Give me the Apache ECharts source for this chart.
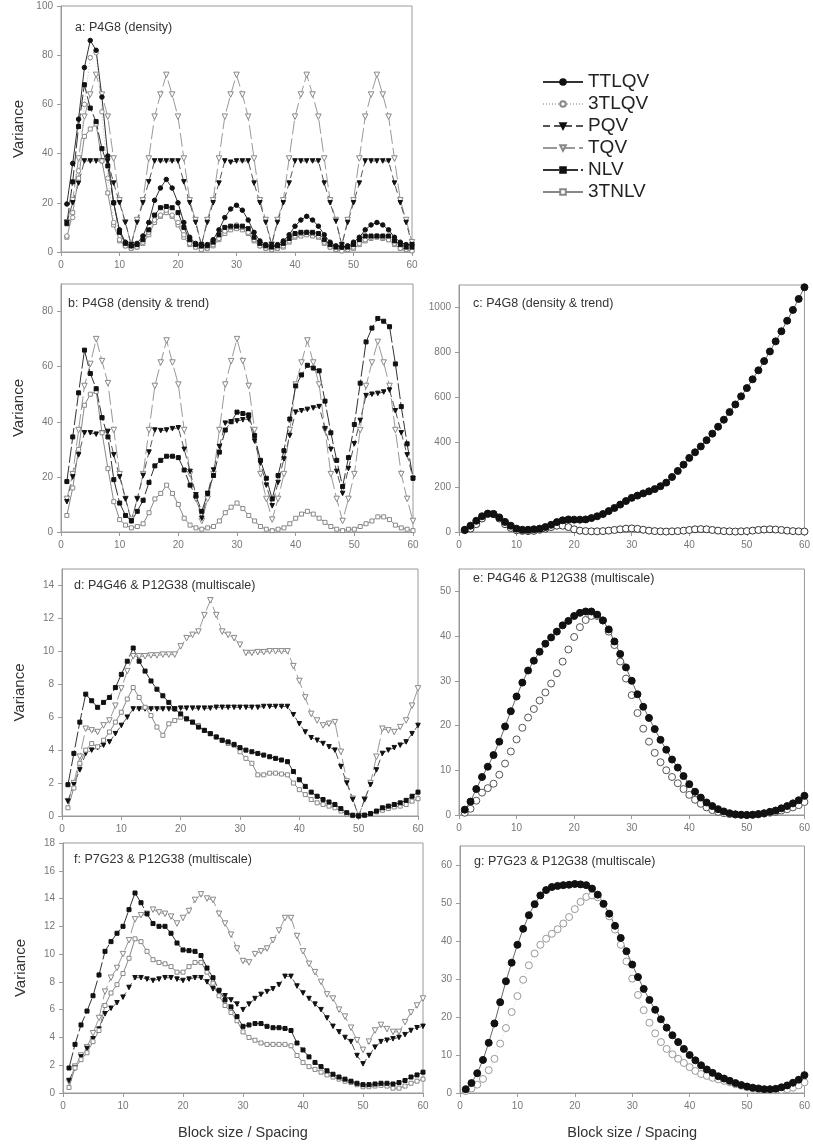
<!DOCTYPE html>
<html><head><meta charset="utf-8">
<script src="https://cdn.jsdelivr.net/npm/echarts@6/dist/echarts.min.js"></script>
<style>html,body{margin:0;padding:0;background:#fff}#c{width:813px;height:1146px}</style>
</head><body><div id="c"></div>
<script>
const xs = [1,2,3,4,5,6,7,8,9,10,11,12,13,14,15,16,17,18,19,20,21,22,23,24,25,26,27,28,29,30,31,32,33,34,35,36,37,38,39,40,41,42,43,44,45,46,47,48,49,50,51,52,53,54,55,56,57,58,59,60];
const legendNames = ['TTLQV','3TLQV','PQV','TQV','NLV','3TNLV'];
const panelLabels = ['a: P4G8 (density)','b: P4G8 (density & trend)','c: P4G8 (density & trend)','d: P4G46 & P12G38 (multiscale)','e: P4G46 & P12G38 (multiscale)','f: P7G23 & P12G38 (multiscale)','g: P7G23 & P12G38 (multiscale)'];
const yMax = [100, 90, 1100, 15, 55, 18, 65];
const yStep = [20, 20, 200, 2, 10, 2, 10];

// panel a
const a_TTLQV = [19.5,36,54,75,86,82,63,39,20,9,4,2.5, 3.5,6.5,12,21,26,29.5,26,20,12,6,3.5,2.5, 3,5,9,14,17.5,19,17,13,8,4.5,3,2.5, 3,4.5,7,10.5,13,14.5,13,10.5,7,4,2.5,2, 2.5,4,6,9,11,12,11,9,6,4,3,3];
const a_3TLQV = [6.5,14,33,60,79,81,57,30,12,5,2.5,1.5, 2,4,8,13,15,17,15,12,7,3.5,2,1, 1.5,3,5.5,8.5,10,11,10,8,5,2.5,1.5,1, 1.5,2.5,4.5,6.5,7.5,8,7.5,6.5,4,2,1,0.5, 1,2,3.5,5,6,6.5,6,5,3.5,1.5,1,0.5];
const a_PQV = [12,20,28,37,37,37,37,37,28,20,12,3, 12,20,28.5,37,37,37,37,37,28.5,20,12,3, 12,20,28,37,36.5,37,37,37,28,20,12,3, 12,20,28,37,37,37,37,37,28,20,12.5,3, 12,20,28,37,37,37,37,37,28,20,12,3];
const a_TQV = [12,21,38,55,64,72,64,55,38,21,12,3, 13,21,38,55,64,72,64,55,38,21,13,2.5, 13,21,38,55,64,72,64,55,38,21,13,3, 13,21,38,55,64,72,64,55,38,21,13,2.5, 13,21,38,55,64,72,64,55,38,21,13,4];
const a_NLV = [11.5,28.5,51,68,58.5,53,42,35,20,8,3.5,2.5, 3,5,9,15,18,18.5,18,16,10,5,3,2.5, 2.5,4,7,10,10.5,10.5,10.5,9.5,6,3.5,2.5,2, 2.5,3.5,5.5,7.5,8,8,8,7.5,5,3,2,2, 2,3,5,6.5,6.5,6.5,6.5,6.5,4.5,3,2,2];
const a_3TNLV = [6,16,30,47,50,52,37,24,11,4.5,2.5,1.5, 2,3.5,7,12,14.5,16,14.5,11,6,3,2,1, 1.5,2.5,5,7.5,9,9.5,9,7.5,4.5,2.5,1.5,1, 1.5,2,4,6,6.5,7,6.5,6,3.5,2,1,0.5, 1,1.5,3,4.5,5.5,6,5.5,5,3,1.5,1,0.5];

// panel b
const b_PQV = [11,20,28,36,36,35.5,36,36.5,28,20,12,4, 12,20.5,29,37,36.8,37,37.5,37.8,30,22,13.5,5, 14,22.5,31,39.5,40,40.3,40.7,41,33,25,17,9.5, 18,26.5,35,43.5,44,44.5,45,45.5,37.5,30,22,14, 23,32,40.5,49.5,50,50.3,50.8,51.5,44,36,28,19.5];
const b_TQV = [12,21,37,53,61,70,62,54,37,21,12,4.5, 12,21,37,53,61.5,69.5,61.5,53.5,37,21,12,4, 12,21,37,53.5,62,70,62,53,37,21,12,4.5, 12,21,37,53.5,61.5,69.5,61.5,53.5,37,21,12,4, 12,21,37,53,61.5,69,61.5,53,37,21,12,4];
const b_NLV = [18.3,34.5,50.5,66,57.5,52,41.5,34.5,19,10.5,6,4, 7.5,11.5,18,24,26,27.5,27.5,27,22.5,17,13,7.5, 14,20.5,29,37,40,43.5,43,42.5,35,26,19.5,12, 20.5,29.5,41,53,57,60.5,59.5,58.5,47.5,36,26,16.5, 27,39,54,69,74,77.5,76.5,74.5,61,45.5,32,19.5];
const b_3TNLV = [6,16,30,46,50,51,36,23,11,4.5,2.5,1.5, 2,3,7,12,14,17,14,10,5,2.5,1.5,1, 1.5,2,4,7,9,10.5,8.5,6,4,2,1,0.5, 1,1.5,3,5,6.5,7.5,6.5,5,3.5,2,1,0.5, 1,1,2,3,4,5.5,5.5,4.5,2.5,1.5,1,0.5];

// panel c
const c_TTLQV = [10,28,50,70,82,80,65,45,28,15,10,10, 12,15,22,32,44,52,56,55,55,56,62,70, 80,93,107,122,138,152,162,172,181,191,204,220, 245,272,300,330,355,381,409,438,469,500,534,568, 604,641,680,720,761,804,849,894,941,989,1038,1090];
const c_3TLQV = [8,15,35,60,80,80,60,35,18,8,5,4, 5,10,15,22,28,28,22,12,6,4,3,3, 4,6,9,12,15,16,14,10,6,4,3,2, 3,4,6,9,12,13,12,9,6,4,3,2, 3,4,6,9,11,12,11,9,6,4,3,2];

// panel d
const d_PQV = [0.9,1.9,2.8,3.8,4.0,4.15,4.3,4.5,5.0,5.5,6.0,6.5, 6.5,6.5,6.5,6.5,6.5,6.5,6.5,6.55,6.55,6.55,6.55,6.55, 6.55,6.6,6.6,6.6,6.6,6.6,6.6,6.6,6.6,6.65,6.65,6.65,6.65,6.65, 6.15,5.6,5.1,4.75,4.6,4.4,4.2,4.0,3.0,2.0,1.0,0, 1.0,1.9,2.8,3.8,4.0,4.15,4.3,4.5,5.0,5.5];
const d_TQV = [0.9,2.0,3.6,5.3,5.2,5.1,5.5,5.8,6.7,7.75,8.8,9.7, 9.7,9.7,9.75,9.75,9.8,9.8,9.8,10.3,10.8,11.0,11.2,12.2, 13.1,12.2,11.2,11.0,10.8,10.4,9.9,9.9,9.95,9.95,10.0,10.0,10.0,10.0, 9.1,8.2,7.2,6.2,5.8,5.5,5.6,5.7,3.9,2.1,1.05,0, 1.0,2.0,3.6,5.3,5.2,5.1,5.4,5.8,6.7,7.75];
const d_NLV = [1.9,3.8,5.7,7.4,7.0,6.6,6.9,7.2,7.8,8.6,9.4,10.2, 9.4,8.8,8.2,7.7,7.3,6.9,6.5,6.2,5.9,5.7,5.4,5.2, 5.0,4.8,4.6,4.5,4.35,4.15,4.0,3.9,3.8,3.7,3.6,3.5,3.4,3.3, 2.7,2.2,1.8,1.45,1.2,1.0,0.85,0.7,0.45,0.2,0.05,0, 0.05,0.15,0.3,0.5,0.6,0.7,0.8,0.95,1.2,1.45];
const d_3TNLV = [0.5,1.7,3.2,4.0,4.4,4.2,4.6,5.1,5.7,6.3,7.1,7.8, 7.2,6.6,6.1,5.4,4.9,5.6,5.8,6.0,5.9,5.7,5.5,5.2, 5.0,4.8,4.6,4.4,4.3,3.9,3.5,3.2,2.5,2.5,2.6,2.6,2.55,2.5, 2.0,1.6,1.3,1.0,0.8,0.7,0.6,0.5,0.3,0.1,0.02,0, 0.05,0.1,0.25,0.35,0.45,0.55,0.6,0.7,0.9,1.05];

// panel e
const e_TTLQV = [1.2,3.0,5.8,8.5,10.8,13.4,16.4,19.8,23.2,26.5,29.6,32.3, 34.5,36.5,38.3,39.7,41.0,42.4,43.4,44.5,45.2,45.5,45.5,44.8, 43.5,41.5,38.8,36.0,33.0,30.0,27.0,24.2,21.7,19.2,16.8,14.6, 12.4,10.6,8.7,6.9,5.2,3.9,2.8,2.0,1.3,0.8,0.4,0.15, 0.05,0,0.05,0.2,0.4,0.7,1.0,1.5,2.0,2.6,3.3,4.3];
const e_3TLQV = [0.5,1.4,3.2,5.0,6.0,7.0,9.0,11.5,14.2,16.9,19.5,21.8, 23.7,25.6,27.4,29.4,31.7,34.3,37.0,39.8,42.0,43.6,44.5,44.5, 43.5,41.0,38.0,34.3,30.5,26.8,22.8,19.3,16.4,13.9,11.8,10.0, 8.5,7.1,5.8,4.5,3.4,2.5,1.7,1.1,0.7,0.4,0.2,0.1, 0.05,0,0.05,0.15,0.3,0.5,0.7,1.0,1.3,1.7,2.2,2.9];

// panel f
const f_PQV = [0.9,1.8,2.6,3.2,3.9,4.6,5.7,6.1,6.5,6.9,7.6,8.3, 8.3,8.2,8.1,8.2,8.3,8.3,8.2,8.1,8.2,8.3,8.3,8.0, 7.5,7.3,7.0,6.7,6.4,6.0,6.4,6.8,7.1,7.3,7.5,7.8, 8.4,8.4,7.7,7.2,6.8,6.4,6.0,5.4,4.8,4.4,4.0,3.7, 2.7,2.1,2.7,3.3,3.7,3.8,3.9,4.0,4.2,4.5,4.7,4.8];
const f_TQV = [0.8,1.9,2.7,3.3,4.3,5.4,7.3,8.3,9.0,10.0,11.0,12.5, 12.8,12.9,13.2,13.0,12.9,12.7,12.2,12.6,13.1,13.9,14.3,14.0, 13.9,12.9,12.2,11.4,10.4,9.5,9.4,10.0,10.2,10.4,11.0,11.7, 12.6,12.6,11.3,10.2,9.3,8.7,8.0,7.1,6.8,6.0,5.5,4.7, 3.8,3.1,3.7,4.5,4.9,4.6,4.4,4.4,5.1,5.8,6.3,6.8];
const f_NLV = [1.8,3.5,4.9,5.9,7.0,8.5,10.2,10.9,11.5,12.0,13.2,14.4, 13.7,12.9,12.2,12.0,12.0,11.5,10.8,10.3,10.25,10.2,9.9,9.0, 8.3,7.4,6.7,6.2,5.5,4.8,4.9,5.0,5.0,4.8,4.7,4.7, 4.65,4.5,3.6,3.1,2.6,2.2,1.9,1.6,1.35,1.15,1.0,0.85, 0.7,0.6,0.6,0.65,0.7,0.7,0.65,0.75,0.9,1.15,1.3,1.5];
const f_3TNLV = [0.4,1.8,2.4,2.9,3.7,4.5,6.3,7.2,7.8,8.6,9.7,11.1, 10.9,10.2,9.6,9.4,9.3,9.1,8.7,8.7,9.1,9.4,9.4,8.7, 7.9,7.0,6.3,5.8,5.2,4.4,4.0,3.8,3.6,3.5,3.5,3.5, 3.5,3.4,2.7,2.2,1.9,1.7,1.5,1.3,1.15,1.0,0.85,0.75, 0.6,0.45,0.45,0.5,0.55,0.5,0.35,0.35,0.5,0.7,0.85,1.0];

// panel g
const g_TTLQV = [1.0,2.6,5.2,8.7,13.2,18.3,23.9,29.4,34.3,39.0,43.2,46.8, 49.7,52.0,53.4,54.2,54.5,54.7,54.8,55.0,54.9,54.7,53.8,52.2, 49.8,47.2,44.0,40.8,37.3,33.8,30.5,27.4,24.5,21.9,19.4,17.2, 15.2,13.4,11.6,10.0,8.6,7.3,6.2,5.3,4.4,3.8,3.2,2.6, 2.1,1.7,1.4,1.2,1.0,1.0,1.1,1.5,2.0,2.7,3.5,4.7];
const g_3TLQV = [0.5,1.2,2.2,3.7,6.0,9.0,13.0,17.1,21.3,25.5,29.8,33.6, 36.7,39.0,40.6,41.9,43.1,44.6,46.3,48.4,50.3,51.6,52.0,51.5, 49.7,46.5,43.0,39.0,34.6,30.1,25.8,21.8,18.5,15.7,13.4,11.6, 10.2,9.0,7.9,6.8,5.8,5.0,4.5,4.0,3.6,3.2,2.8,2.3, 1.9,1.5,1.2,1.0,0.8,0.7,0.7,0.8,1.0,1.4,2.0,2.8];

const FONT = '"Liberation Sans", Arial, sans-serif';
const DOWN = 'path://M0,0L10,0L5,8.66Z';
const grids = [
  {left:61, top:6, width:351, height:246},
  {left:61, top:284, width:352, height:248},
  {left:459, top:285, width:352, height:247},
  {left:62, top:569, width:356, height:247},
  {left:459, top:569, width:351, height:246},
  {left:63, top:843, width:360, height:250},
  {left:460, top:846, width:352, height:247}
];
const labelPos = [[75,21],[68,297],[473,297],[74,579],[473,572],[74,853],[474,855]];

const STY = {
  'TTLQV': {symbol:'circle', fill:'#111', border:'#111', line:'#333', type:'solid', size:4.5},
  '3TLQV': {symbol:'circle', fill:'#fff', border:'#888', line:'#bbb', type:[1,2], size:4.5},
  'PQV':   {symbol:DOWN, fill:'#111', border:'#111', line:'#555', type:[7,4], size:4.5},
  'TQV':   {symbol:DOWN, fill:'#fff', border:'#888', line:'#999', type:[14,4], size:5.5},
  'NLV':   {symbol:'rect', fill:'#111', border:'#111', line:'#333', type:[16,3], size:4},
  '3TNLV': {symbol:'rect', fill:'#fff', border:'#888', line:'#888', type:'solid', size:4}
};

function mk(name, gi, arr, opt) {
  const st = Object.assign({}, STY[name], opt || {});
  return {
    type:'line', name: name, xAxisIndex: gi, yAxisIndex: gi,
    data: xs.map((x, i) => [x, arr[i]]),
    symbol: st.symbol, symbolSize: st.size, showAllSymbol: true,
    itemStyle: {color: st.fill, borderColor: st.border, borderWidth: 1},
    lineStyle: {color: st.line, width: 1, type: st.type},
    emphasis: {disabled: true}, animation: false
  };
}

const series = [
  mk('TQV',0,a_TQV), mk('PQV',0,a_PQV), mk('3TNLV',0,a_3TNLV), mk('3TLQV',0,a_3TLQV), mk('NLV',0,a_NLV), mk('TTLQV',0,a_TTLQV),
  mk('TQV',1,b_TQV), mk('PQV',1,b_PQV), mk('3TNLV',1,b_3TNLV), mk('NLV',1,b_NLV),
  mk('3TLQV',2,c_3TLQV,{size:7, border:'#333', line:'#ccc'}), mk('TTLQV',2,c_TTLQV,{size:7, line:'#666'}),
  mk('TQV',3,d_TQV), mk('PQV',3,d_PQV), mk('3TNLV',3,d_3TNLV), mk('NLV',3,d_NLV),
  mk('3TLQV',4,e_3TLQV,{size:7, border:'#555', line:'#ddd'}), mk('TTLQV',4,e_TTLQV,{size:7, line:'#666'}),
  mk('TQV',5,f_TQV), mk('PQV',5,f_PQV), mk('3TNLV',5,f_3TNLV), mk('NLV',5,f_NLV),
  mk('3TLQV',6,g_3TLQV,{size:7, border:'#999', line:'#ddd'}), mk('TTLQV',6,g_TTLQV,{size:7, line:'#666'})
];

const axisCol = '#9a9a9a';
const xAxes = grids.map((g, i) => ({
  type:'value', gridIndex:i, min:0, max:60, interval:10,
  axisLine:{show:true, onZero:false, lineStyle:{color:axisCol}},
  axisTick:{show:true, length:4, lineStyle:{color:axisCol}},
  axisLabel:{color:'#777', fontSize:10, margin:8, fontFamily:FONT},
  splitLine:{show:false},
  name: (i === 5 || i === 6) ? 'Block size / Spacing' : '',
  nameLocation:'middle', nameGap:32,
  nameTextStyle:{fontSize:14.5, color:'#333', fontFamily:FONT}
}));
const yAxes = grids.map((g, i) => ({
  type:'value', gridIndex:i, min:0, max:yMax[i], interval:yStep[i],
  axisLine:{show:true, lineStyle:{color:axisCol}},
  axisTick:{show:true, length:4, lineStyle:{color:axisCol}},
  axisLabel:{color:'#777', fontSize:10, margin:8, fontFamily:FONT,
    formatter: v => String(v),
    showMaxLabel: (yMax[i] % yStep[i] === 0)},
  splitLine:{show:false},
  name: (i === 0 || i === 1 || i === 3 || i === 5) ? 'Variance' : '',
  nameLocation:'middle', nameGap:35,
  nameTextStyle:{fontSize:15, color:'#333', fontFamily:FONT}
}));

const titles = panelLabels.map((t, i) => ({
  text: t, left: labelPos[i][0], top: labelPos[i][1], padding: 0,
  textStyle:{fontSize:12.5, fontWeight:'normal', color:'#333', fontFamily:FONT}
}));

const chart = echarts.init(document.getElementById('c'), null, {renderer:'canvas'});
chart.setOption({
  backgroundColor:'#fff',
  animation:false,
  title: titles,
  legend: {
    data: legendNames, orient:'vertical', left:542, top:72, padding:0,
    itemWidth:40, itemHeight:7, itemGap:2,
    textStyle:{fontSize:19, color:'#222', lineHeight:20, fontFamily:FONT},
    selectedMode:false
  },
  grid: grids.map(g => Object.assign({show:true, borderColor:axisCol, borderWidth:1, containLabel:false}, g)),
  xAxis: xAxes,
  yAxis: yAxes,
  series: series
});
</script>
</body></html>
